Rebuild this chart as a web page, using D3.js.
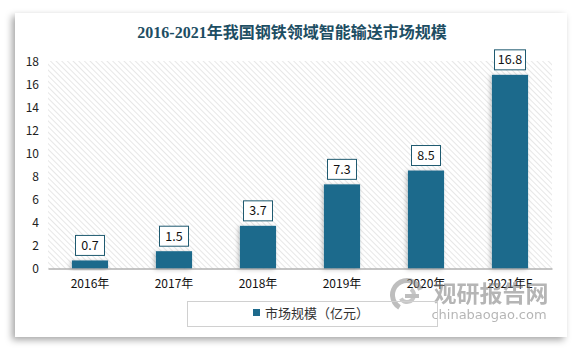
<!DOCTYPE html>
<html>
<head>
<meta charset="utf-8">
<script src="https://cdn.jsdelivr.net/npm/d3@7"></script>
<style>
  html, body { margin: 0; padding: 0; background: #ffffff; }
  svg { display: block; }
</style>
</head>
<body>
<svg id="chart" width="583" height="349"></svg>
<script>
// Market size of intelligent conveying in China's steel sector, 2016–2021E (100 million yuan)
const categories = ["2016年", "2017年", "2018年", "2019年", "2020年", "2021年E"];
const marketSize = [0.7, 1.5, 3.7, 7.3, 8.5, 16.8];
const yTicks = [0, 2, 4, 6, 8, 10, 12, 14, 16, 18];
const titleText = "2016-2021年我国钢铁领域智能输送市场规模";
const legendText = "市场规模（亿元）";

const W = 583, H = 349;
const card = { x: 15, y: 13, w: 552, h: 324 };
const plot = { left: 48, right: 552, top: 61, bottom: 268.5 };
const barColor = "#1e6a8c";
const sans = "'Noto Sans CJK SC', 'Noto Sans', sans-serif";

const svg = d3.select("#chart");
const defs = svg.append("defs");

// soft shadow under the white card
const cardShadow = defs.append("filter").attr("id", "cardShadow")
  .attr("x", "-10%").attr("y", "-10%").attr("width", "120%").attr("height", "120%");
cardShadow.append("feDropShadow")
  .attr("dx", -3).attr("dy", 3).attr("stdDeviation", 3.5)
  .attr("flood-color", "#000").attr("flood-opacity", 0.35);

// faint halo behind bars
const barShadow = defs.append("filter").attr("id", "barShadow")
  .attr("x", "-30%").attr("y", "-30%").attr("width", "160%").attr("height", "160%");
barShadow.append("feDropShadow")
  .attr("dx", -1.5).attr("dy", 1).attr("stdDeviation", 2)
  .attr("flood-color", "#000").attr("flood-opacity", 0.25);

// diagonal hatch for the plot background
const hatch = defs.append("pattern").attr("id", "hatch")
  .attr("patternUnits", "userSpaceOnUse").attr("width", 4).attr("height", 4)
  .attr("patternTransform", "rotate(-45)");
hatch.append("rect").attr("width", 4).attr("height", 4).attr("fill", "#ffffff");
hatch.append("line").attr("x1", 0).attr("y1", 0).attr("x2", 0).attr("y2", 4)
  .attr("stroke", "#d4d4d4").attr("stroke-width", 1.1);

// page background + card
svg.append("rect").attr("width", W).attr("height", H).attr("fill", "#ffffff");
svg.append("rect")
  .attr("x", card.x).attr("y", card.y).attr("width", card.w).attr("height", card.h)
  .attr("fill", "#ffffff").attr("filter", "url(#cardShadow)");

// title
svg.append("text")
  .attr("x", 292).attr("y", 38)
  .attr("text-anchor", "middle")
  .attr("font-family", "'Liberation Serif', 'Noto Sans CJK SC', serif")
  .attr("font-weight", "bold").attr("font-size", 16)
  .attr("fill", "#1d4e63")
  .text(titleText);

// scales
const x = d3.scaleBand().domain(categories)
  .range([plot.left, plot.right]).paddingInner(0.57).paddingOuter(0.285);
const y = d3.scaleLinear().domain([0, 18]).range([plot.bottom, plot.top]);

// hatched plot area
svg.append("rect")
  .attr("x", plot.left).attr("y", plot.top)
  .attr("width", plot.right - plot.left).attr("height", plot.bottom - plot.top)
  .attr("fill", "url(#hatch)");

// y axis labels
const yAxis = d3.axisLeft(y).tickValues(yTicks).tickSize(0).tickPadding(0);
const yg = svg.append("g").attr("transform", `translate(39,0)`).call(yAxis);
yg.select(".domain").remove();
yg.selectAll("text")
  .attr("font-family", sans).attr("font-size", 12).attr("fill", "#222")
  .attr("text-anchor", "end").attr("dy", "0.35em");

// bars
svg.append("g").selectAll("rect.bar")
  .data(marketSize)
  .join("rect")
  .attr("class", "bar")
  .attr("x", (d, i) => x(categories[i]))
  .attr("y", d => y(d))
  .attr("width", x.bandwidth())
  .attr("height", d => y(0) - y(d))
  .attr("fill", barColor)
  .attr("filter", "url(#barShadow)");

// x axis
const xAxis = d3.axisBottom(x).tickSize(0).tickPadding(11);
const xg = svg.append("g").attr("transform", `translate(0,${plot.bottom})`).call(xAxis);
xg.select(".domain").attr("stroke", "#8c8c8c").attr("stroke-width", 1);
xg.selectAll("text")
  .attr("font-family", sans).attr("font-size", 12).attr("fill", "#111");

// value labels in boxes
const lbl = svg.append("g").selectAll("g.val")
  .data(marketSize)
  .join("g")
  .attr("class", "val")
  .attr("transform", (d, i) =>
    `translate(${x(categories[i]) + x.bandwidth() / 2},${y(d) - 5})`);
lbl.append("rect")
  .attr("x", d => (d >= 10 ? -15.5 : -14.5))
  .attr("y", -20)
  .attr("width", d => (d >= 10 ? 31 : 29))
  .attr("height", 20)
  .attr("fill", "#ffffff")
  .attr("stroke", "#1f5a70").attr("stroke-width", 1);
lbl.append("text")
  .attr("y", -5.5)
  .attr("text-anchor", "middle")
  .attr("font-family", sans).attr("font-size", 12.5).attr("fill", "#111")
  .text(d => d.toFixed(1));

// watermark
const wm = svg.append("g").attr("opacity", 0.55);
const icon = wm.append("g").attr("transform", "translate(407,295)");
icon.append("path")
  .attr("d", d3.arc()({ innerRadius: 12, outerRadius: 17, startAngle: -2.6, endAngle: 1.2 }))
  .attr("fill", "#8a8a8a");
icon.append("path")
  .attr("d", d3.arc()({ innerRadius: 5, outerRadius: 9, startAngle: 0.6, endAngle: 4.2 }))
  .attr("fill", "#9a9a9a");
icon.append("rect").attr("x", -2).attr("y", -1).attr("width", 14).attr("height", 4).attr("fill", "#8a8a8a");
wm.append("text")
  .attr("x", 491).attr("y", 302)
  .attr("text-anchor", "middle")
  .attr("font-family", sans).attr("font-weight", "bold").attr("font-size", 23)
  .attr("fill", "#7a7a7a")
  .text("观研报告网");
wm.append("text")
  .attr("x", 489).attr("y", 319)
  .attr("text-anchor", "middle")
  .attr("font-family", "'DejaVu Sans', sans-serif").attr("font-size", 13)
  .attr("fill", "#7a7a7a")
  .text("chinabaogao.com");

// legend
const lg = svg.append("g");
lg.append("rect")
  .attr("x", 187.5).attr("y", 301.5).attr("width", 250).attr("height", 25)
  .attr("fill", "none").attr("stroke", "#d0d0d0").attr("stroke-width", 1);
lg.append("rect")
  .attr("x", 253).attr("y", 309).attr("width", 7).attr("height", 7)
  .attr("fill", barColor);
lg.append("text")
  .attr("x", 265).attr("y", 317.5)
  .attr("font-family", sans).attr("font-size", 13).attr("fill", "#333")
  .text(legendText);
</script>
</body>
</html>
